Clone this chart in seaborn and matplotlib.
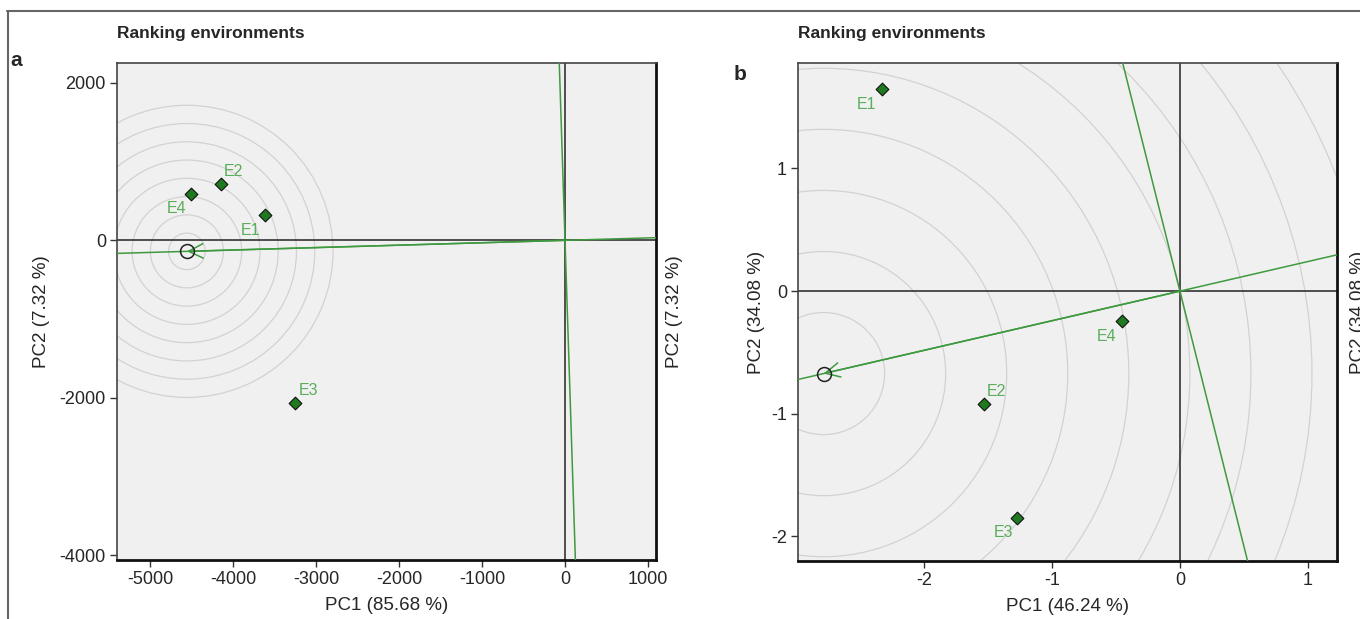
import matplotlib.pyplot as plt
import seaborn as sns
import numpy as np
import pandas as pd
from matplotlib.patches import Ellipse
from matplotlib.lines import Line2D

# environment scores on the first two principal components
envs = ["E1", "E2", "E3", "E4"]

pc1_a = [-3618, -4147, -3257, -4507]
pc2_a = [317, 711, -2070, 584]
avg_env_a = (-4555, -140)

pc1_b = [-2.334, -1.535, -1.276, -0.454]
pc2_b = [1.648, -0.918, -1.852, -0.246]
avg_env_b = (-2.79, -0.672)

xticks_a = [-5000, -4000, -3000, -2000, -1000, 0, 1000]
yticks_a = [-4000, -2000, 0, 2000]
xticks_b = [-2, -1, 0, 1]
yticks_b = [-2, -1, 0, 1]

xlabel_a, ylabel_a = "PC1 (85.68 %)", "PC2 (7.32 %)"
xlabel_b, ylabel_b = "PC1 (46.24 %)", "PC2 (34.08 %)"

sns.set_style("white")
plt.rcParams["font.family"] = ["Liberation Sans", "DejaVu Sans"]
plt.rcParams["axes.unicode_minus"] = False

GREEN_LINE = "#3f9a3f"
GREEN_TEXT = "#5aad5a"
POINT_FILL = "#1f7a1f"


def biplot(ax, x, y, avg, xlim, ylim, xticks, yticks, ring_step, n_rings,
           label_offsets, xlab, ylab, ylab_x, ylab_right_x):
    ax.set_facecolor("#f0f0f0")
    ax.set_xlim(*xlim)
    ax.set_ylim(*ylim)

    # concentric rings around the average environment, kept round on screen
    fig = ax.figure
    bbox = ax.get_position()
    w_px = bbox.width * fig.get_figwidth() * fig.dpi
    h_px = bbox.height * fig.get_figheight() * fig.dpi
    ratio = ((ylim[1] - ylim[0]) / h_px) / ((xlim[1] - xlim[0]) / w_px)
    for k in range(1, n_rings + 1):
        r = ring_step * k
        ax.add_patch(Ellipse(avg, 2 * r, 2 * r * ratio, fill=False,
                             ec="#d2d2d2", lw=0.9, zorder=1))

    ax.axhline(0, color="#222222", lw=1.1, zorder=2)
    ax.axvline(0, color="#222222", lw=1.1, zorder=2)

    # average environment axis and its perpendicular through the origin
    slope = avg[1] / avg[0]
    ax.axline((0, 0), slope=slope, color=GREEN_LINE, lw=1.1, zorder=3)
    ax.axline((0, 0), slope=-1 / slope, color=GREEN_LINE, lw=1.1, zorder=3)
    ax.annotate("", xy=avg, xytext=(0, 0),
                arrowprops=dict(arrowstyle="->", color=GREEN_LINE, lw=1.1,
                                mutation_scale=26, shrinkA=0, shrinkB=0),
                zorder=3)
    ax.plot(*avg, marker="o", ms=10, mfc="none", mec="#222222", mew=1.1,
            zorder=4)

    df = pd.DataFrame({"env": envs, "PC1": x, "PC2": y})
    sns.scatterplot(data=df, x="PC1", y="PC2", ax=ax, marker="D", s=42,
                    color=POINT_FILL, edgecolor="#111111", linewidth=0.8,
                    zorder=5, legend=False)
    for name, px, py in zip(envs, x, y):
        dx, dy = label_offsets[name]
        ax.annotate(name, (px, py), xytext=(dx, dy), textcoords="offset points",
                    ha="center", va="center", color=GREEN_TEXT, fontsize=11.5)

    ax.set_xticks(xticks)
    ax.set_yticks(yticks)
    ax.tick_params(axis="both", which="both", bottom=True, left=True,
                   direction="out", length=5, width=1, color="#333333",
                   labelsize=13, pad=3)
    for side in ["top", "left"]:
        ax.spines[side].set_color("#444444")
        ax.spines[side].set_linewidth(1.2)
    for side in ["bottom", "right"]:
        ax.spines[side].set_color("#111111")
        ax.spines[side].set_linewidth(2)

    ax.set_xlabel(xlab, fontsize=13.5)
    ax.xaxis.set_label_coords(0.5, -0.075)
    ax.set_ylabel(ylab, fontsize=13.5)
    ax.yaxis.set_label_coords(ylab_x, 0.5)
    ax.text(ylab_right_x, 0.5, ylab, transform=ax.transAxes, rotation=90,
            ha="center", va="center", fontsize=13.5, clip_on=False)
    ax.text(0, 1.05, "Ranking environments", transform=ax.transAxes,
            ha="left", va="baseline", fontsize=12.5, fontweight="bold")


fig = plt.figure(figsize=(13.6, 6.19), dpi=100)
ax_a = fig.add_axes([117 / 1360, 1 - 560 / 619, 539 / 1360, 497 / 619])
ax_b = fig.add_axes([798 / 1360, 1 - 561 / 619, 539 / 1360, 498 / 619])

offsets_a = {"E1": (-10, -11), "E2": (9, 9), "E3": (10, 9), "E4": (-10, -10)}
offsets_b = {"E1": (-11, -11), "E2": (9, 9), "E3": (-10, -10), "E4": (-11, -11)}

biplot(ax_a, pc1_a, pc2_a, avg_env_a, (-5397, 1096), (-4063, 2254),
       xticks_a, yticks_a, 220, 8, offsets_a, xlabel_a, ylabel_a, -0.125, 1.035)
biplot(ax_b, pc1_b, pc2_b, avg_env_b, (-2.99, 1.23), (-2.20, 1.86),
       xticks_b, yticks_b, 0.478, 10, offsets_b, xlabel_b, ylabel_b, -0.062, 1.04)

# panel letters and the outer frame
fig.text(16 / 1360, 1 - 60 / 619, "a", ha="center", va="center",
         fontsize=15, fontweight="bold")
fig.text(740 / 1360, 1 - 75 / 619, "b", ha="center", va="center",
         fontsize=15, fontweight="bold")
fig.add_artist(Line2D([7 / 1360, 1], [1 - 11 / 619, 1 - 11 / 619],
                      transform=fig.transFigure, color="#666666", lw=1.5))
fig.add_artist(Line2D([8 / 1360, 8 / 1360], [0, 1 - 11 / 619],
                      transform=fig.transFigure, color="#666666", lw=1.5))

fig.savefig("out.png", dpi=100)
